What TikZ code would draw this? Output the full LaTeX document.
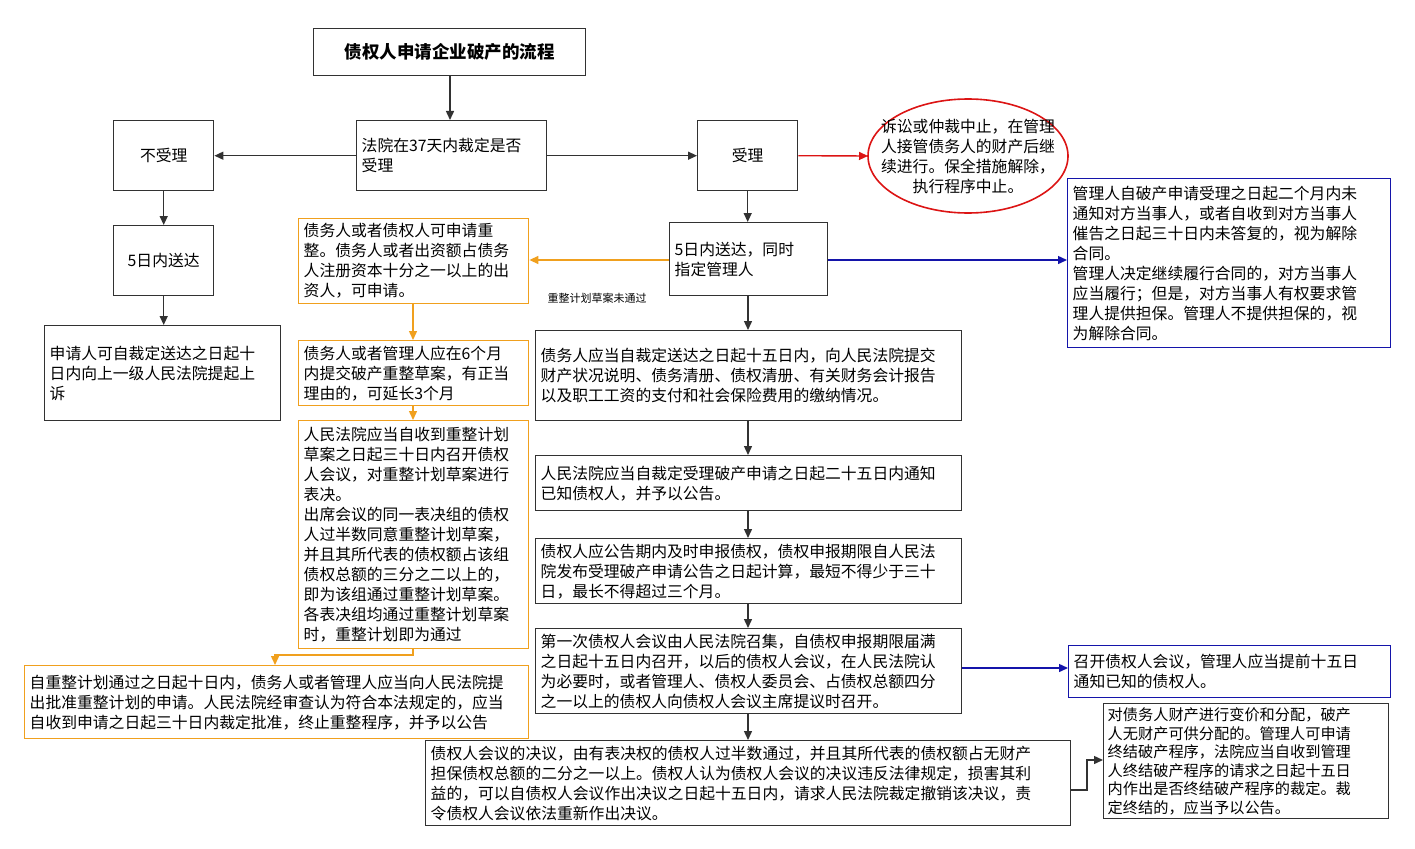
\documentclass[tikz,border=0pt]{standalone}
\usepackage{fontspec}
\setmainfont{Noto Sans CJK SC}
\usetikzlibrary{arrows.meta}
\definecolor{org}{RGB}{240,160,30}
\definecolor{blu}{RGB}{20,20,170}
\definecolor{rd}{RGB}{220,20,20}
\definecolor{dk}{RGB}{50,50,50}
\tikzset{
 bk/.style={draw=dk, line width=1.4pt, anchor=north west, inner sep=5pt, align=left, font=\fontsize{15.8}{20}\selectfont, fill=white},
 ob/.style={bk, draw=org},
 bb/.style={bk, draw=blu},
 ar/.style={draw=dk, line width=1.4pt, -{Triangle[length=9pt,width=8pt]}},
}
\begin{document}
\begin{tikzpicture}[x=1pt,y=-1pt]
\useasboundingbox (0,0) rectangle (1415,848);
\node[bk, text width=262pt, minimum height=47pt, align=center, font=\fontsize{17.5}{20}\selectfont\bfseries] (t) at (313,28) {债权人申请企业破产的流程};
\node[bk, text width=90pt, minimum height=70pt, align=center] (nr) at (113,120) {不受理};
\node[bk, text width=180pt, minimum height=70pt] (f) at (356,120) {法院在37天内裁定是否\\受理};
\node[bk, text width=90pt, minimum height=70pt, align=center] (sl) at (697,120) {受理};
\draw[draw=rd, line width=1.6pt] (968,156) ellipse [x radius=100, y radius=57];
\node[align=center, inner sep=0pt, font=\fontsize{15.8}{20}\selectfont] (el) at (968,156) {诉讼或仲裁中止，在管理\\人接管债务人的财产后继\\续进行。保全措施解除，\\执行程序中止。};
\coordinate (elw) at (868,156);
\node[bb, text width=313pt, minimum height=169pt] (bl) at (1067,178) {管理人自破产申请受理之日起二个月内未\\通知对方当事人，或者自收到对方当事人\\催告之日起三十日内未答复的，视为解除\\合同。\\管理人决定继续履行合同的，对方当事人\\应当履行；但是，对方当事人有权要求管\\理人提供担保。管理人不提供担保的，视\\为解除合同。};
\node[bk, text width=90pt, minimum height=70pt, align=center] (l5) at (113,225) {5日内送达};
\node[bk, text width=148pt, minimum height=73pt] (c5) at (669,222) {5日内送达，同时\\指定管理人};
\node[bk, text width=226pt, minimum height=95pt] (lb) at (44,325) {申请人可自裁定送达之日起十\\日内向上一级人民法院提起上\\诉};
\node[ob, text width=220pt, minimum height=82pt] (o1) at (298,218) {债务人或者债权人可申请重\\整。债务人或者出资额占债务\\人注册资本十分之一以上的出\\资人，可申请。};
\node[ob, text width=220pt, minimum height=60pt] (o2) at (298,340) {债务人或者管理人应在6个月\\内提交破产重整草案，有正当\\理由的，可延长3个月};
\node[ob, text width=220pt, minimum height=228pt] (o3) at (298,420) {人民法院应当自收到重整计划\\草案之日起三十日内召开债权\\人会议，对重整计划草案进行\\表决。\\出席会议的同一表决组的债权\\人过半数同意重整计划草案，\\并且其所代表的债权额占该组\\债权总额的三分之二以上的，\\即为该组通过重整计划草案。\\各表决组均通过重整计划草案\\时，重整计划即为通过};
\node[ob, text width=494pt, minimum height=73pt] (o4) at (24,665) {自重整计划通过之日起十日内，债务人或者管理人应当向人民法院提\\出批准重整计划的申请。人民法院经审查认为符合本法规定的，应当\\自收到申请之日起三十日内裁定批准，终止重整程序，并予以公告};
\node[bk, text width=416pt, minimum height=90pt] (c1) at (535,330) {债务人应当自裁定送达之日起十五日内，向人民法院提交\\财产状况说明、债务清册、债权清册、有关财务会计报告\\以及职工工资的支付和社会保险费用的缴纳情况。};
\node[bk, text width=416pt, minimum height=55pt] (c2) at (535,455) {人民法院应当自裁定受理破产申请之日起二十五日内通知\\已知债权人，并予以公告。};
\node[bk, text width=416pt, minimum height=65pt] (c3) at (535,538) {债权人应公告期内及时申报债权，债权申报期限自人民法\\院发布受理破产申请公告之日起计算，最短不得少于三十\\日，最长不得超过三个月。};
\node[bk, text width=416pt, minimum height=84pt] (c4) at (535,628) {第一次债权人会议由人民法院召集，自债权申报期限届满\\之日起十五日内召开，以后的债权人会议，在人民法院认\\为必要时，或者管理人、债权人委员会、占债权总额四分\\之一以上的债权人向债权人会议主席提议时召开。};
\node[bb, text width=312pt, minimum height=52pt] (bs) at (1068,645) {召开债权人会议，管理人应当提前十五日\\通知已知的债权人。};
\node[bk, text width=635pt, minimum height=82pt] (bt) at (425,740) {债权人会议的决议，由有表决权的债权人过半数通过，并且其所代表的债权额占无财产\\担保债权总额的二分之一以上。债权人认为债权人会议的决议违反法律规定，损害其利\\益的，可以自债权人会议作出决议之日起十五日内，请求人民法院裁定撤销该决议，责\\令债权人会议依法重新作出决议。};
\node[bk, text width=277pt, minimum height=114pt, inner sep=4pt, font=\fontsize{15.2}{18.5}\selectfont] (br) at (1103,703) {对债务人财产进行变价和分配，破产\\人无财产可供分配的。管理人可申请\\终结破产程序，法院应当自收到管理\\人终结破产程序的请求之日起十五日\\内作出是否终结破产程序的裁定。裁\\定终结的，应当予以公告。};
\coordinate (lab) at (597,298);
\node[font=\fontsize{11}{13}\selectfont] (lbl) at (lab) {重整计划草案未通过};
\draw[ar] (t.south -| 450,0) -- (f.north -| 450,0);
\draw[ar] (f.west) -- (nr.east);
\draw[ar] (f.east) -- (sl.west);
\draw[ar, draw=rd] (sl.east) -- (elw);
\draw[ar] (sl.south) -- (c5.north -| sl.south);
\draw[ar] (nr.south) -- (l5.north);
\draw[ar] (l5.south) -- (lb.north -| l5.south);
\draw[ar, draw=org] (c5.west |- 0,260) -- (o1.east |- 0,260);
\draw[ar, draw=blu] (c5.east |- 0,260) -- (bl.west |- 0,260);
\draw[ar, draw=org] (o1.south -| 413,0) -- (o2.north -| 413,0);
\draw[ar, draw=org] (o2.south -| 413,0) -- (o3.north -| 413,0);
\draw[ar, draw=org] (o3.south -| 413,0) -- (413,655) -- (275,655) -- (o4.north -| 275,0);
\draw[ar] (c5.south -| 748,0) -- (c1.north -| 748,0);
\draw[ar] (c1.south -| 748,0) -- (c2.north -| 748,0);
\draw[ar] (c2.south -| 748,0) -- (c3.north -| 748,0);
\draw[ar] (c3.south -| 748,0) -- (c4.north -| 748,0);
\draw[ar] (c4.south -| 748,0) -- (bt.north -| 748,0);
\draw[ar, draw=blu] (c4.east |- 0,668) -- (bs.west |- 0,668);
\draw[ar] (bt.east |- 0,790) -- (1087,790) -- (1087,760) -- (br.west |- 0,760);
\end{tikzpicture}
\end{document}
